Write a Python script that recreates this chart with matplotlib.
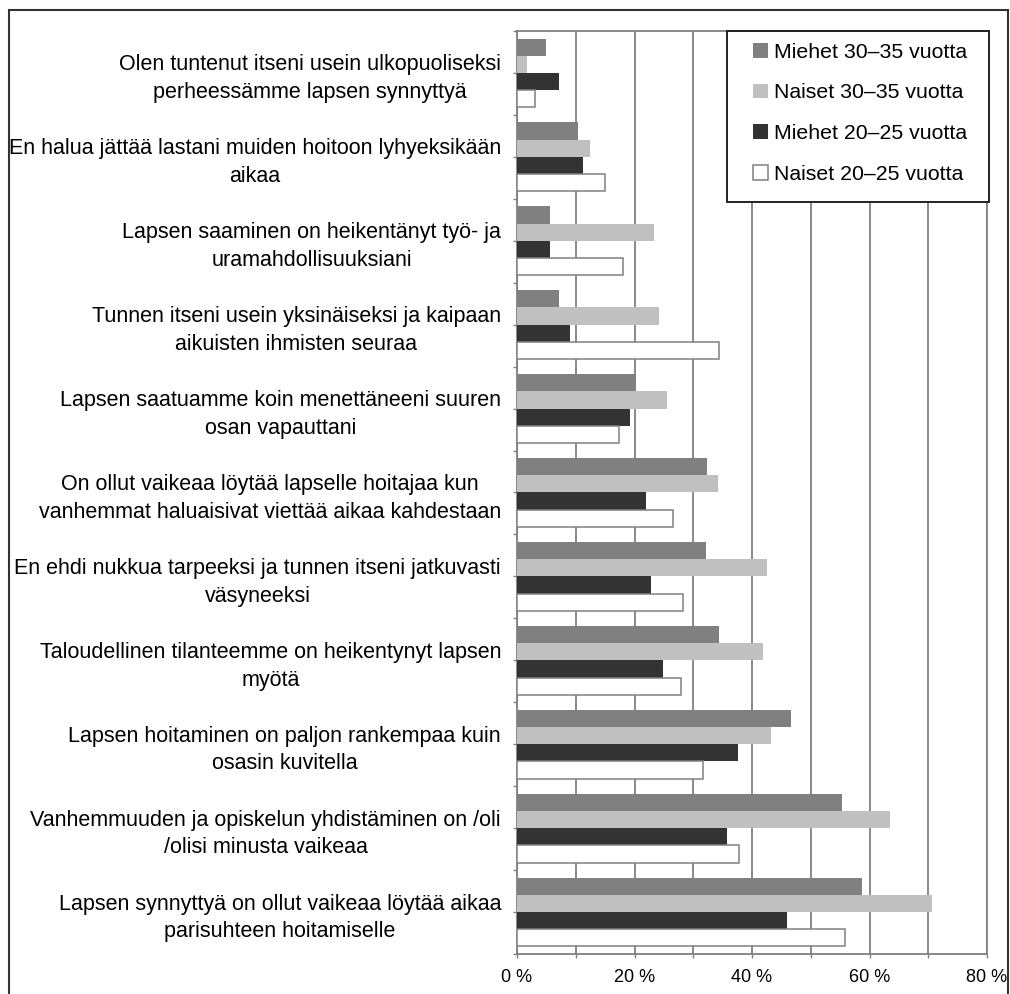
import matplotlib
matplotlib.use("Agg")
import matplotlib.pyplot as plt
import numpy as np
from matplotlib.patches import Rectangle
from matplotlib.ticker import FixedLocator, FuncFormatter

plt.rcParams['font.family'] = ['Liberation Sans', 'DejaVu Sans']

categories = [
    "Olen tuntenut itseni usein ulkopuoliseksi\nperheessämme lapsen synnyttyä",
    "En halua jättää lastani muiden hoitoon lyhyeksikään\naikaa",
    "Lapsen saaminen on heikentänyt työ- ja\nuramahdollisuuksiani",
    "Tunnen itseni usein yksinäiseksi ja kaipaan\naikuisten ihmisten seuraa",
    "Lapsen saatuamme koin menettäneeni suuren\nosan vapauttani",
    "On ollut vaikeaa löytää lapselle hoitajaa kun\nvanhemmat haluaisivat viettää aikaa kahdestaan",
    "En ehdi nukkua tarpeeksi ja tunnen itseni jatkuvasti\nväsyneeksi",
    "Taloudellinen tilanteemme on heikentynyt lapsen\nmyötä",
    "Lapsen hoitaminen on paljon rankempaa kuin\nosasin kuvitella",
    "Vanhemmuuden ja opiskelun yhdistäminen on /oli\n/olisi minusta vaikeaa",
    "Lapsen synnyttyä on ollut vaikeaa löytää aikaa\nparisuhteen hoitamiselle",
]

series_names = ["Miehet 30–35 vuotta", "Naiset 30–35 vuotta",
                "Miehet 20–25 vuotta", "Naiset 20–25 vuotta"]
miehet_30_35 = [4.9, 10.3, 5.7, 7.1, 20.2, 32.3, 32.1, 34.3, 46.6, 55.3, 58.8]
naiset_30_35 = [1.7, 12.5, 23.4, 24.1, 25.5, 34.2, 42.6, 41.8, 43.2, 63.5, 70.6]
miehet_20_25 = [7.1, 11.2, 5.6, 9.0, 19.2, 21.9, 22.8, 24.8, 37.6, 35.7, 45.9]
naiset_20_25 = [3.0, 15.0, 18.0, 34.4, 17.4, 26.6, 28.3, 27.9, 31.6, 37.8, 55.8]
x_ticks = [0, 10, 20, 30, 40, 50, 60, 70, 80]

W, H = 1010, 994
fig = plt.figure(figsize=(W / 100, H / 100), dpi=100)
ax = fig.add_axes([517 / W, 1 - 954 / H, (987 - 517) / W, (954 - 31) / H])

grey = "#808080"
styles = [
    dict(color="#808080", edgecolor="none"),
    dict(color="#c0c0c0", edgecolor="none"),
    dict(color="#333333", edgecolor="none"),
    dict(color="white", edgecolor=grey, linewidth=1.1),
]
all_vals = [miehet_30_35, naiset_30_35, miehet_20_25, naiset_20_25]
n = len(categories)
y = np.arange(n)
h = 0.205
offsets = [-1.5 * h, -0.5 * h, 0.5 * h, 1.5 * h]
for vals, off, st, name in zip(all_vals, offsets, styles, series_names):
    ax.barh(y + off, vals, height=h, label=name, zorder=3, **st)

ax.set_xlim(0, 80)
ax.set_ylim(n - 0.5, -0.5)
ax.xaxis.set_major_locator(FixedLocator(x_ticks))
ax.xaxis.set_major_formatter(FuncFormatter(lambda v, p: f"{int(v)} %" if int(v) % 20 == 0 else ""))
ax.grid(axis='x', color=grey, linewidth=1.3, zorder=0)
ax.set_axisbelow(True)

ax.set_yticks(y)
ax.set_yticklabels(categories)
ax.yaxis.set_minor_locator(FixedLocator(np.arange(-0.5, n, 1.0)))
for lab in ax.get_yticklabels():
    lab.set_multialignment('center')
    lab.set_fontsize(15.5)
    lab.set_linespacing(1.42)
for lab in ax.get_xticklabels():
    lab.set_fontsize(13)

ax.tick_params(axis='y', which='both', length=3, width=1, color=grey, direction='out', pad=8.5)
ax.tick_params(axis='x', which='major', length=3, width=1, color=grey, direction='out', pad=8)
for s in ax.spines.values():
    s.set_color(grey)
    s.set_linewidth(1.3)

# legend frame drawn separately so its box matches the reference exactly
fig.patches.append(Rectangle((727 / W, 1 - 202 / H), (989 - 727) / W, (202 - 31) / H,
                             transform=fig.transFigure, facecolor="white",
                             edgecolor="#222222", linewidth=1.4, zorder=4))
leg = ax.legend(loc='upper left', bbox_to_anchor=(753 / W, 1 - 42.5 / H),
                bbox_transform=fig.transFigure, borderaxespad=0, borderpad=0,
                frameon=False, fontsize=15.3,
                handlelength=0.7, handleheight=0.7, handletextpad=0.3,
                labelspacing=1.03)
leg.set_zorder(6)
leg.remove()
fig.add_artist(leg)

fig.patches.append(Rectangle((9 / W, -0.02), (1008 - 9) / W, 1 - 10 / H + 0.02,
                             transform=fig.transFigure, fill=False,
                             edgecolor="#333333", linewidth=1.5))

fig.savefig("out.png", dpi=100)
